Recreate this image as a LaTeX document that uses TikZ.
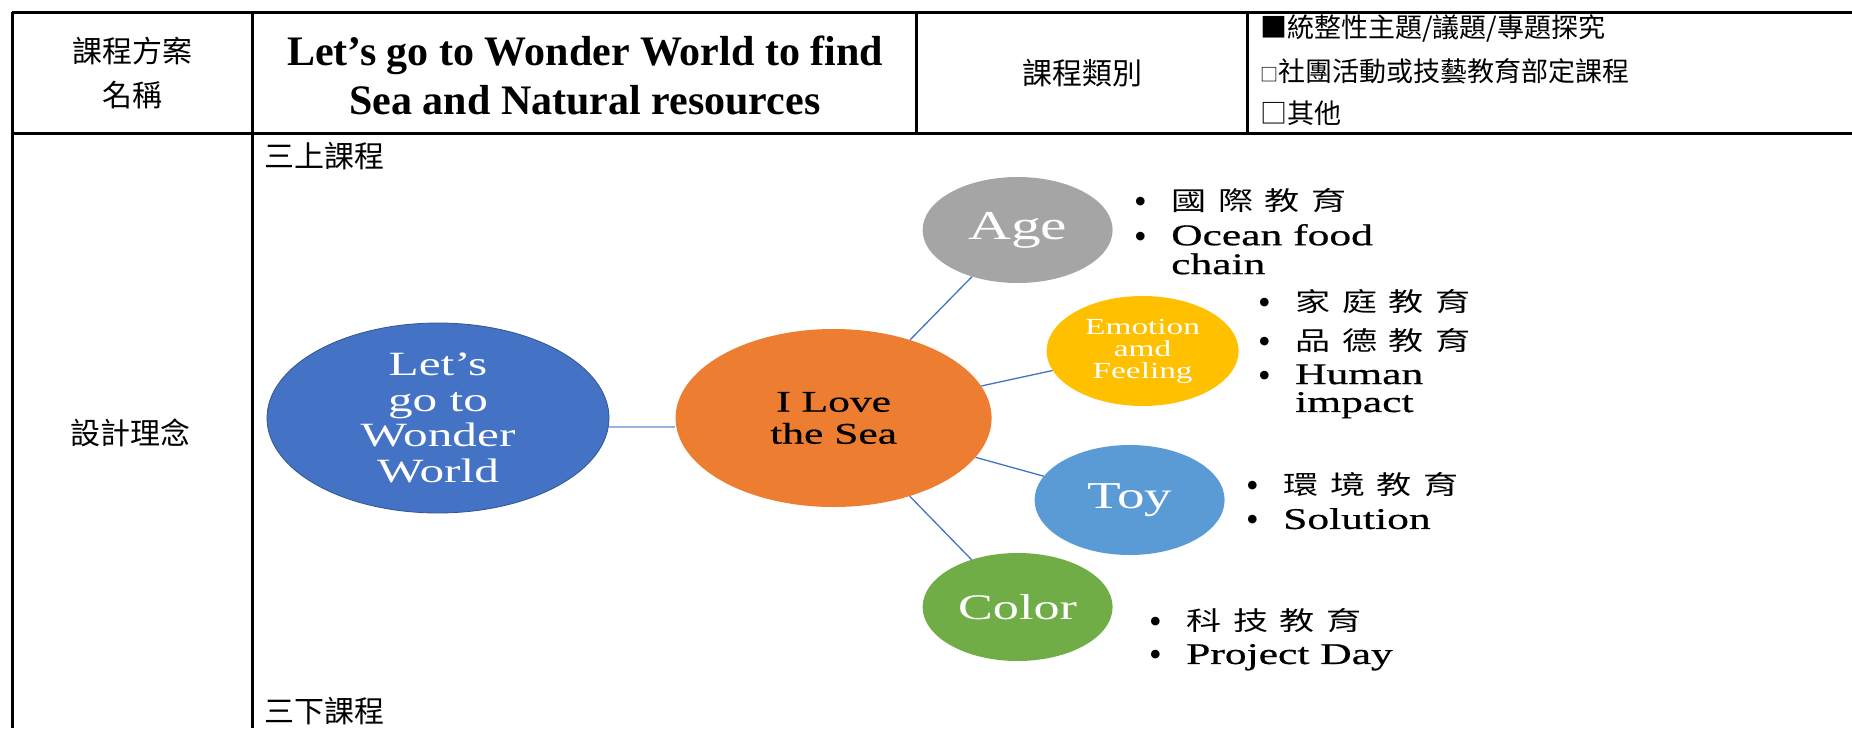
\documentclass[tikz,border=0pt]{standalone}
\usepackage{fontspec}
\setmainfont{Liberation Serif}
\newfontfamily\cjk{Noto Sans CJK TC}
\newfontfamily\cjkspread{Noto Sans CJK TC}[FakeStretch=1.35,LetterSpace=45]
\newfontfamily\wide{Liberation Serif}[FakeStretch=1.45]
\newfontfamily\widedark{Liberation Serif}[FakeStretch=1.45,FakeBold=0.7]
\usetikzlibrary{shapes.geometric,positioning,calc}

\definecolor{worldblue}{HTML}{4472C4}
\definecolor{seaorange}{HTML}{ED7D31}
\definecolor{agegray}{HTML}{A5A5A5}
\definecolor{emoyellow}{HTML}{FFC000}
\definecolor{toyblue}{HTML}{5B9BD5}
\definecolor{colorgreen}{HTML}{70AD47}

\newcommand{\dotrow}{\smash{\raisebox{-3pt}{\rmfamily\fontsize{36}{27}\selectfont •}}}
\newcommand{\zh}[1]{{\cjkspread\fontsize{26}{27}\selectfont #1}}

\tikzset{
  rule/.style={line width=3pt},
  cell/.style={inner sep=0pt, font=\cjk\fontsize{30}{44}\selectfont},
  option/.style={inner sep=0pt, anchor=west, font=\cjk\fontsize{27}{27}\selectfont},
  bubble/.style={ellipse, inner sep=0pt, draw=none},
  inbubble/.style={inner sep=0pt, text=white, align=center},
  twig/.style={draw=worldblue, line width=1.3pt},
  notes/.style={anchor=base west, inner sep=0pt, font=\widedark\fontsize{30}{27}\selectfont}
}

\begin{document}
\begin{tikzpicture}[x=1pt, y=-1pt]
    \useasboundingbox (0,0) rectangle (1852,728);

    % table frame
    \draw[rule] (12,12) -- (1852,12);
    \draw[rule] (12,133) -- (1852,133);
    \draw[rule] (12,12) -- (12,728);
    \draw[rule] (252,12) -- (252,728);
    \draw[rule] (916,12) -- (916,133);
    \draw[rule] (1247,12) -- (1247,133);

    % header row
    \node(plan)[cell, align=center] at (132,73) {課程方案\\名稱};
    \node(title)[inner sep=0pt, align=center, font=\bfseries\fontsize{42}{49}\selectfont] at (585,75)
        {Let’s go to Wonder World to find\\Sea and Natural resources};
    \node(kind)[cell] at (1082,73) {課程類別};
    \node(opt1)[option] at (1260,29) {■統整性主題/議題/專題探究};
    \node(opt2)[option] at (1260,71) {{\fontsize{18}{18}\selectfont □}社團活動或技藝教育部定課程};
    \node(opt3)[option] at (1260,113) {□其他};

    % second row
    \node(idea)[cell] at (130,433) {設計理念};
    \node(upper)[cell, anchor=west] at (264,156) {三上課程};
    \node(lower)[cell, anchor=west] at (264,711) {三下課程};

    % mind map
    \node(world)[bubble, fill=worldblue, draw=worldblue!75!black, line width=0.8pt,
        minimum width=342pt, minimum height=190pt,
        label={[inbubble, font=\wide\fontsize{34}{35.5}\selectfont]center:{Let’s\\go to\\Wonder\\World}}]
        at (438,418) {};
    \node(sea)[bubble, fill=seaorange, minimum width=316pt, minimum height=178pt, right=66pt of world,
        label={[inbubble, text=black, font=\widedark\fontsize{30}{32}\selectfont]center:{I Love\\the Sea}}] {};
    \node(age)[bubble, fill=agegray, minimum width=190pt, minimum height=106pt,
        label={[inbubble, font=\wide\fontsize{41}{41}\selectfont]center:{Age}}]
        at ($(sea)+(184,-188)$) {};
    \node(emo)[bubble, fill=emoyellow, minimum width=192pt, minimum height=110pt,
        label={[inbubble, font=\wide\fontsize{23}{22}\selectfont]center:{Emotion\\amd\\Feeling}}]
        at ($(sea)+(309,-67)$) {};
    \node(toy)[bubble, fill=toyblue, minimum width=190pt, minimum height=110pt,
        label={[inbubble, font=\wide\fontsize{38}{38}\selectfont]center:{Toy}}]
        at ($(sea)+(296,82)$) {};
    \node(color)[bubble, fill=colorgreen, minimum width=190pt, minimum height=108pt,
        label={[inbubble, font=\wide\fontsize{36}{36}\selectfont]center:{Color}}]
        at ($(sea)+(184,189)$) {};

    \draw[twig, draw=worldblue!55] ([yshift=-9pt]world.east) -- ([yshift=-9pt]sea.west);
    \draw[twig] (sea) -- (age);
    \draw[twig] (sea) -- (emo);
    \draw[twig] (sea) -- (toy);
    \draw[twig] (sea) -- (color);

    % bullet lists
    \node(agenotes)[notes] at (1134,210) {\begin{tabular}[t]{@{}p{37pt}@{}l@{}}
        \dotrow & \zh{國際教育}\\[6pt]
        \dotrow & Ocean food\\
                & chain
    \end{tabular}};
    \node(emonotes)[notes] at (1258,311) {\begin{tabular}[t]{@{}p{37pt}@{}l@{}}
        \dotrow & \zh{家庭教育}\\[9pt]
        \dotrow & \zh{品德教育}\\[6pt]
        \dotrow & Human\\
                & impact
    \end{tabular}};
    \node(toynotes)[notes] at (1246,494) {\begin{tabular}[t]{@{}p{37pt}@{}l@{}}
        \dotrow & \zh{環境教育}\\[6pt]
        \dotrow & Solution
    \end{tabular}};
    \node(colornotes)[notes] at (1149,630) {\begin{tabular}[t]{@{}p{37pt}@{}l@{}}
        \dotrow & \zh{科技教育}\\[6pt]
        \dotrow & Project Day
    \end{tabular}};
\end{tikzpicture}
\end{document}
